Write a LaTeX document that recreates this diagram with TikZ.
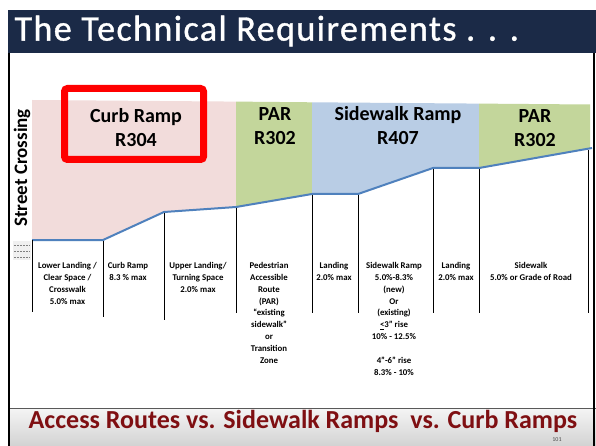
\documentclass[tikz,border=0pt]{standalone}
\usepackage{fontspec}
\setmainfont{Carlito}
\definecolor{titlebar}{HTML}{1B2A47}
\definecolor{curbpink}{HTML}{F2DCDB}
\definecolor{pargreen}{HTML}{C3D69B}
\definecolor{rampblue}{HTML}{B9CDE5}
\definecolor{slopeline}{HTML}{4F81BD}
\definecolor{footred}{HTML}{7F0F12}
\tikzset{
  zonelabel/.style={font=\bfseries\fontsize{20}{24}\selectfont, align=center},
  notelabel/.style={font=\bfseries\fontsize{8.8}{11.9}\selectfont, align=center, anchor=north, inner sep=0pt},
  divider/.style={black, line width=0.9pt}
}
\begin{document}
\begin{tikzpicture}[x=1pt, y=-1pt]
    \useasboundingbox (0,0) rectangle (596,446);
    \fill[white] (0,0) rectangle (596,446);
    \fill[titlebar] (8,10) rectangle (596,53);
    \node[anchor=west, text=white, font=\fontsize{36}{40}\selectfont\addfontfeatures{LetterSpace=4,FakeBold=1}] (title) at (11,31) {The Technical Requirements . . .};
    \fill[curbpink] (32,100)--(236,101.6)--(236,207)--(164,212)--(103,240)--(32,240)--cycle;
    \fill[pargreen] (236,101.6)--(312,102.3)--(312,194)--(236,207)--cycle;
    \fill[rampblue] (312,102.3)--(479,103.6)--(479,168)--(433,168)--(358,194)--(312,194)--cycle;
    \fill[pargreen] (479,103.6)--(590,104.5)--(590,148.4)--(479,168)--cycle;
    \draw[slopeline, line width=2pt] (32,240)--(103,240)--(164,212)--(236,207)--(312,194)--(358,194)--(433,168)--(479,168)--(592,148);
    \draw[red, line width=7pt, rounded corners=3pt] (64.5,88.5) rectangle (203.5,159.5);
    \foreach \x/\top/\bot in {32/240/312, 103/241/317, 164/213/320, 236/208/313, 312/195/313, 358/195/313, 433/169/313, 479/169/313, 588/150/313}
        \draw[divider] (\x,\top)--(\x,\bot);
    \fill[gray!12] (13,241) rectangle (31,260);
    \foreach \y in {245,251,257}
        \draw[gray, line width=1pt, dash pattern=on 2pt off 1pt] (14,\y)--(30,\y);
    \node[zonelabel] (curbhead) at (136,128) {Curb Ramp\\R304};
    \node[zonelabel] (parhead) at (275,126) {PAR\\R302};
    \node[zonelabel] (ramphead) at (398,126) {Sidewalk Ramp\\R407};
    \node[zonelabel] (parheadb) at (535,128) {PAR\\R302};
    \node[rotate=90, font=\bfseries\fontsize{19}{22}\selectfont] (street) at (22,168) {Street Crossing};
    \node[notelabel] (lowerland) at (67.5,262) {Lower Landing /\\Clear Space /\\Crosswalk\\5.0\% max};
    \node[notelabel] (curbnote) at (128,262) {Curb Ramp\\8.3 \% max};
    \node[notelabel] (upperland) at (198,262) {Upper Landing/\\Turning Space\\2.0\% max};
    \node[notelabel] (parnote) at (269,262) {Pedestrian\\Accessible\\Route\\(PAR)\\“existing\\sidewalk”\\or\\Transition\\Zone};
    \node[notelabel] (landa) at (334,262) {Landing\\2.0\% max};
    \node[notelabel] (rampnote) at (394,262) {Sidewalk Ramp\\5.0\%-8.3\%\\(new)\\Or\\(existing)\\\underline{<}3” rise\\10\% - 12.5\%\\[11.9pt]4”-6” rise\\8.3\% - 10\%};
    \node[notelabel] (landb) at (456,262) {Landing\\2.0\% max};
    \node[notelabel] (walknote) at (531,262) {Sidewalk\\5.0\% or Grade of Road};
    \shade[top color=gray!8, bottom color=gray!35] (9,408) rectangle (596,446);
    \draw[gray!70!black, line width=1pt] (9,408)--(596,408);
    \draw[black, line width=2.5pt] (9,53)--(9,446);
    \draw[black, line width=2pt] (594,53)--(594,446);
    \node[anchor=base, text=footred, font=\bfseries\fontsize{26}{30}\selectfont] (footer) at (303,428) {Access Routes vs. Sidewalk Ramps\ \ vs. Curb Ramps};
    \node[font=\fontsize{6}{7}\selectfont, text=black!70] (pageno) at (557,440) {101};
\end{tikzpicture}
\end{document}
